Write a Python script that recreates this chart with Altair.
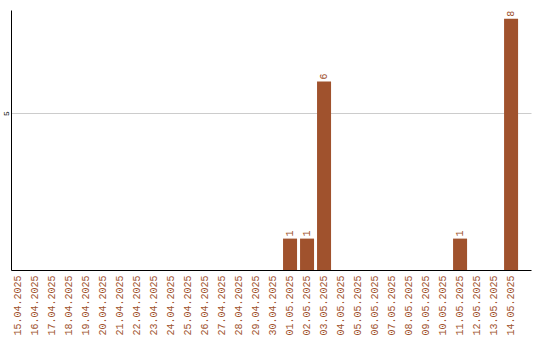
import altair as alt
import pandas as pd

# Daily counts, 15.04.2025 – 14.05.2025
dates = [
    "15.04.2025", "16.04.2025", "17.04.2025", "18.04.2025", "19.04.2025",
    "20.04.2025", "21.04.2025", "22.04.2025", "23.04.2025", "24.04.2025",
    "25.04.2025", "26.04.2025", "27.04.2025", "28.04.2025", "29.04.2025",
    "30.04.2025", "01.05.2025", "02.05.2025", "03.05.2025", "04.05.2025",
    "05.05.2025", "06.05.2025", "07.05.2025", "08.05.2025", "09.05.2025",
    "10.05.2025", "11.05.2025", "12.05.2025", "13.05.2025", "14.05.2025",
]
counts = [0, 0, 0, 0, 0, 0, 0, 0, 0, 0, 0, 0, 0, 0, 0,
          0, 1, 1, 6, 0, 0, 0, 0, 0, 0, 0, 1, 0, 0, 8]

df = pd.DataFrame({"date": dates, "count": counts})
labels_df = df[df["count"] > 0]

BROWN = "#A0522D"
FONT = "Liberation Mono"

x_enc = alt.X(
    "date:O",
    sort=dates,
    title=None,
    scale=alt.Scale(paddingInner=0.176, paddingOuter=0.38, align=0),
    axis=alt.Axis(
        labelAngle=-90,
        labelColor=BROWN,
        labelFont=FONT,
        labelFontSize=10,
        labelPadding=5,
        ticks=False,
        domainColor="black",
        grid=False,
    ),
)
y_enc = alt.Y(
    "count:Q",
    title=None,
    scale=alt.Scale(domain=[0, 8.28], nice=False),
    axis=alt.Axis(
        values=[5],
        labelAngle=-90,
        labelFont=FONT,
        labelFontSize=8,
        labelColor="black",
        labelPadding=5,
        labelAlign="center",
        labelBaseline="middle",
        ticks=False,
        domainColor="black",
        gridColor="#cccccc",
    ),
)

bars = alt.Chart(df).mark_bar(color=BROWN).encode(x=x_enc, y=y_enc)

values = alt.Chart(labels_df).mark_text(
    angle=270,
    align="left",
    baseline="middle",
    dx=2,
    color=BROWN,
    font=FONT,
    fontSize=10,
).encode(x=alt.X("date:O", sort=dates), y="count:Q", text="count:Q")

chart = (
    alt.layer(bars, values)
    .properties(
        width=520,
        height=260,
        autosize=alt.AutoSizeParams(type="none"),
        padding={"left": 11, "top": 10, "right": 9, "bottom": 70},
        background="white",
    )
    .configure_view(stroke=None)
)

chart.save("out.html", embed_options={"renderer": "svg", "actions": False})
